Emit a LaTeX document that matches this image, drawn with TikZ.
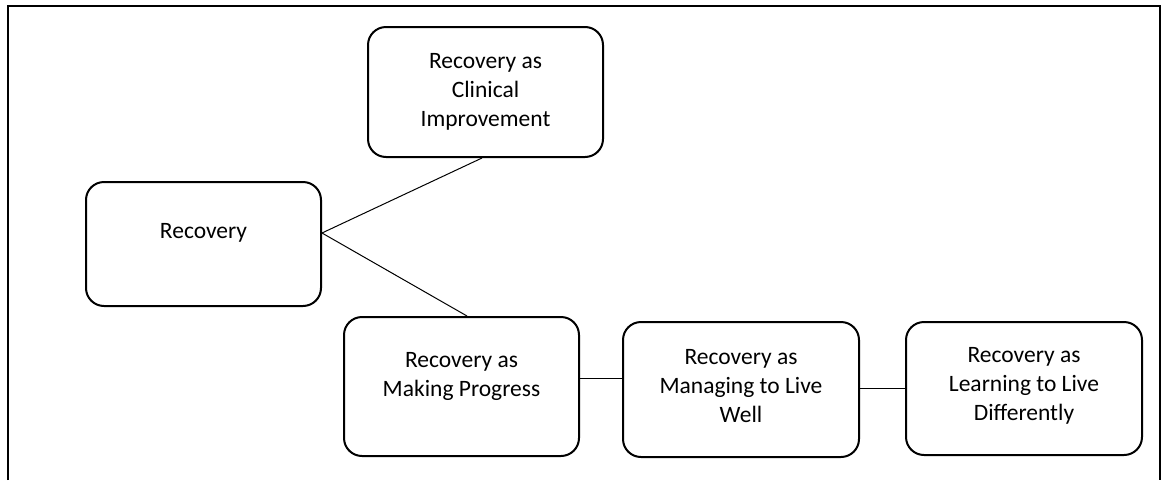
\documentclass[tikz,border=0pt]{standalone}
\usepackage{fontspec}
\setmainfont{Carlito}
\begin{document}
\begin{tikzpicture}[x=1pt,y=-1pt,
  box/.style={draw, line width=2pt, rounded corners=18pt, inner sep=0pt},
  txt/.style={align=center, inner sep=0pt, font=\fontsize{23.5}{29}\selectfont},
  conn/.style={line width=1pt}]
\useasboundingbox (0,0) rectangle (1162,480);
% frame
\draw[line width=1.6pt] (8,480) -- (8,6) -- (1160,6) -- (1160,480);
% boxes
\node[box, minimum width=235pt, minimum height=124pt] (rec) at (203.5,244) {};
\node[txt] (rect) at (203.5,233) {Recovery};
\node[box, minimum width=235pt, minimum height=130pt] (clin) at (485.5,92) {};
\node[txt] (clint) at (485.5,92) {Recovery as\\Clinical\\Improvement};
\node[box, minimum width=235pt, minimum height=139pt] (prog) at (461.5,386.5) {};
\node[txt] (progt) at (461.5,376) {Recovery as\\Making Progress};
\node[box, minimum width=236pt, minimum height=135pt] (man) at (741,389.5) {};
\node[txt] (mant) at (741,386) {Recovery as\\Managing to Live\\Well};
\node[box, minimum width=236pt, minimum height=133pt] (learn) at (1024,388.5) {};
\node[txt] (learnt) at (1024,386) {Recovery as\\Learning to Live\\Differently};
% connectors
\draw[conn] (rec.east |- rect) -- ([xshift=-3.5pt]clin.south);
\draw[conn] (rec.east |- rect) -- ([xshift=5.5pt]prog.north);
\draw[conn] ([yshift=8.5pt]prog.east) -- ([yshift=8.5pt]prog.east -| man.west);
\draw[conn] ([yshift=1.5pt]man.east) -- ([yshift=1.5pt]man.east -| learn.west);
\end{tikzpicture}
\end{document}
